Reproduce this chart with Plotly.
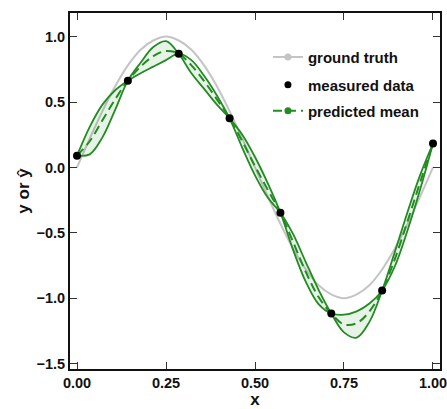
import plotly.graph_objects as go

# x grid (data read at quarter steps between measurements)
x_grid = [0.0, 0.0357, 0.0714, 0.1071, 0.1429, 0.1786, 0.2143, 0.25, 0.2857,
          0.3214, 0.3571, 0.3929, 0.4286, 0.4643, 0.5, 0.5357, 0.5714, 0.6071,
          0.6429, 0.6786, 0.7143, 0.75, 0.7857, 0.8214, 0.8571, 0.8929, 0.9286,
          0.9643, 1.0]

ground_truth = [0.0, 0.22, 0.43, 0.62, 0.78, 0.90, 0.97, 1.0, 0.97, 0.90, 0.78,
                0.62, 0.43, 0.22, 0.0, -0.22, -0.43, -0.62, -0.78, -0.90, -0.97,
                -1.0, -0.97, -0.90, -0.78, -0.62, -0.43, -0.22, 0.0]

pred_mean = [0.09, 0.20, 0.36, 0.52, 0.663, 0.77, 0.85, 0.89, 0.869, 0.78, 0.66,
             0.52, 0.375, 0.20, 0.01, -0.17, -0.346, -0.57, -0.80, -0.99, -1.116,
             -1.20, -1.19, -1.10, -0.94, -0.70, -0.41, -0.11, 0.183]

band_a = [0.09, 0.31, 0.48, 0.59, 0.663, 0.72, 0.77, 0.82, 0.869, 0.82, 0.70,
          0.55, 0.375, 0.15, -0.06, -0.23, -0.346, -0.51, -0.725, -0.935, -1.116,
          -1.26, -1.30, -1.18, -0.94, -0.645, -0.34, -0.055, 0.183]

band_b = [0.09, 0.10, 0.23, 0.44, 0.663, 0.80, 0.92, 0.965, 0.869, 0.72, 0.60,
          0.48, 0.375, 0.25, 0.08, -0.12, -0.346, -0.63, -0.875, -1.045, -1.116,
          -1.125, -1.10, -1.04, -0.94, -0.755, -0.48, -0.165, 0.183]

meas_x = [0.0, 0.1429, 0.2857, 0.4286, 0.5714, 0.7143, 0.8571, 1.0]
meas_y = [0.09, 0.663, 0.869, 0.375, -0.346, -1.116, -0.94, 0.183]

x_ticks = [0.0, 0.25, 0.5, 0.75, 1.0]
y_ticks = [-1.5, -1.0, -0.5, 0.0, 0.5, 1.0]

GREEN = "#228b22"
GRAY = "#c4c4c4"
FONT = "Liberation Sans"
TXT = "#111111"

fig = go.Figure()
fig.add_trace(go.Scatter(x=x_grid, y=ground_truth, mode="lines",
                         line=dict(color=GRAY, width=2, shape="spline"),
                         showlegend=False, hoverinfo="skip"))
fig.add_trace(go.Scatter(x=x_grid, y=band_a, mode="lines",
                         line=dict(color=GREEN, width=1.8, shape="spline"),
                         showlegend=False))
fig.add_trace(go.Scatter(x=x_grid, y=band_b, mode="lines",
                         line=dict(color=GREEN, width=1.8, shape="spline"),
                         fill="tonexty", fillcolor="rgba(34,139,34,0.10)",
                         showlegend=False))
fig.add_trace(go.Scatter(x=x_grid, y=pred_mean, mode="lines",
                         line=dict(color=GREEN, width=2, shape="spline", dash="9px,5px"),
                         showlegend=False))
fig.add_trace(go.Scatter(x=meas_x, y=meas_y, mode="markers",
                         marker=dict(color="black", size=8),
                         showlegend=False, cliponaxis=False))

# legend entries
fig.add_trace(go.Scatter(x=[None], y=[None], mode="lines+markers", name="ground truth",
                         line=dict(color=GRAY, width=2), marker=dict(color=GRAY, size=7),
                         legend="legend"))
fig.add_trace(go.Scatter(x=[None], y=[None], mode="markers", name="measured data",
                         marker=dict(color="black", size=7), legend="legend2"))
fig.add_trace(go.Scatter(x=[None], y=[None], mode="lines+markers", name="predicted mean",
                         line=dict(color=GREEN, width=2, dash="9px,5px"),
                         marker=dict(color=GREEN, size=7), legend="legend3"))

leg_common = dict(x=0.535, xanchor="left", yanchor="middle", bgcolor="rgba(0,0,0,0)",
                  font=dict(family=FONT, size=15, color=TXT, weight="bold"))

tickfont = dict(family=FONT, size=14.5, color=TXT, weight="bold")
titlefont = dict(family=FONT, size=17, color=TXT, weight="bold")

fig.update_layout(
    width=447, height=409,
    margin=dict(l=70, r=7, t=13, b=40, autoexpand=False),
    plot_bgcolor="white", paper_bgcolor="white",
    font=dict(family=FONT, size=13, color=TXT),
    legend=dict(y=0.876, **leg_common),
    legend2=dict(y=0.798, **leg_common),
    legend3=dict(y=0.725, **leg_common),
    xaxis=dict(range=[-0.0197, 1.0197], tickvals=x_ticks, tickformat=".2f",
               ticks="inside", ticklen=7, tickwidth=1.2, tickcolor="#333333",
               showline=True, linecolor=TXT, linewidth=2, mirror="ticks",
               showgrid=False, zeroline=False, tickfont=tickfont,
               ticklabeloverflow="allow",
               title=dict(text="x", standoff=16, font=titlefont)),
    yaxis=dict(range=[-1.54, 1.18], tickvals=y_ticks, tickformat=".1f",
               ticks="inside", ticklen=7, tickwidth=1.2, tickcolor="#333333",
               showline=True, linecolor=TXT, linewidth=2, mirror="ticks",
               showgrid=False, zeroline=False, tickfont=tickfont,
               ticklabeloverflow="allow",
               title=dict(text="y or ŷ", standoff=3, font=titlefont)),
)

fig.write_html("out.html")
